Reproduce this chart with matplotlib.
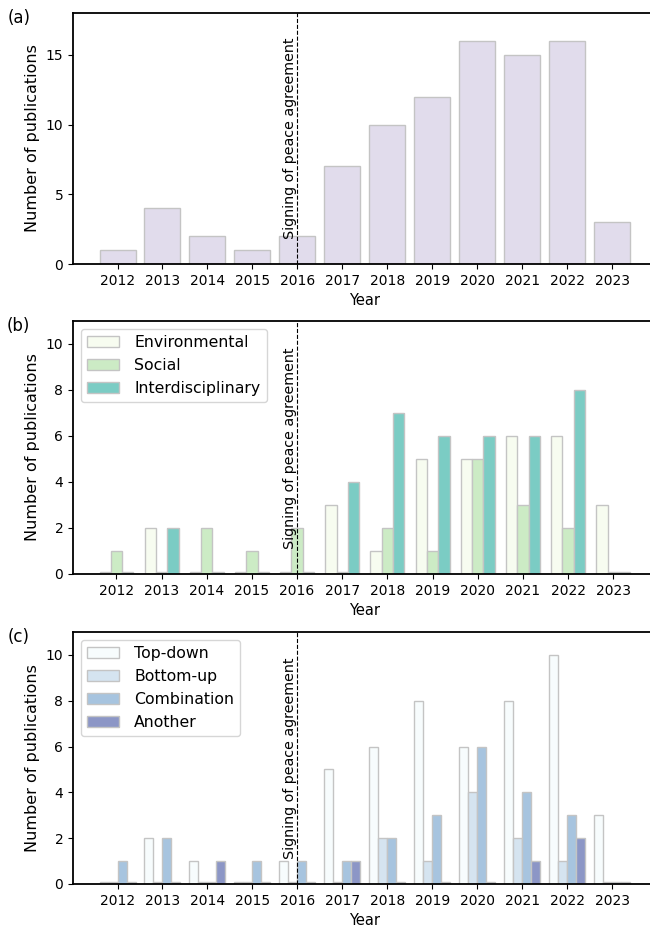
import matplotlib
matplotlib.use("Agg")
import matplotlib.pyplot as plt
import matplotlib.transforms as mtransforms
import numpy as np

years = [2012, 2013, 2014, 2015, 2016, 2017, 2018, 2019, 2020, 2021, 2022, 2023]

# (a) total publications per year
total = [1, 4, 2, 1, 2, 7, 10, 12, 16, 15, 16, 3]

# (b) by discipline
environmental = [0, 2, 0, 0, 0, 3, 1, 5, 5, 6, 6, 3]
social = [1, 0, 2, 1, 2, 0, 2, 1, 5, 3, 2, 0]
interdisciplinary = [0, 2, 0, 0, 0, 4, 7, 6, 6, 6, 8, 0]

# (c) by approach
top_down = [0, 2, 1, 0, 1, 5, 6, 8, 6, 8, 10, 3]
bottom_up = [0, 0, 0, 0, 0, 0, 2, 1, 4, 2, 1, 0]
combination = [1, 2, 0, 1, 1, 1, 2, 3, 6, 4, 3, 0]
another = [0, 0, 1, 0, 0, 1, 0, 0, 0, 1, 2, 0]

peace_year = 2016
edge = "#c4c4c4"


def stub(vals):
    # zero counts are drawn as a thin stub so the slot stays visible
    v = np.array(vals, dtype=float)
    return np.where(v == 0, 0.1, v)


def decorate(ax, ymax, label):
    ax.set_ylim(0, ymax)
    ax.set_xticks(years)
    ax.set_xticklabels([str(y) for y in years])
    ax.tick_params(labelsize=10)
    ax.set_xlabel("Year", fontsize=10.5)
    ax.set_ylabel("Number of publications", fontsize=11.5)
    ax.spines["right"].set_visible(False)
    for s in ["left", "top", "bottom"]:
        ax.spines[s].set_linewidth(1.3)
    ax.axvline(peace_year, color="black", linestyle="--", linewidth=0.8)
    trans = mtransforms.blended_transform_factory(ax.transData, ax.transAxes)
    ax.text(peace_year, 0.1, "Signing of peace agreement", rotation=90,
            ha="right", va="bottom", transform=trans, fontsize=10.3)
    ax.text(-0.093, 0.98, label, transform=ax.transAxes, fontsize=12,
            ha="center", va="center")


fig = plt.figure(figsize=(6.5, 9.31), dpi=100)
left, width = 0.1123, 0.898
ax1 = fig.add_axes([left, 0.7164, width, 0.2696])
ax2 = fig.add_axes([left, 0.3835, width, 0.2718])
ax3 = fig.add_axes([left, 0.0505, width, 0.2707])

x = np.array(years)

# (a)
ax1.bar(x, total, width=0.8, color="#e1dcec", edgecolor=edge, linewidth=1)
decorate(ax1, 18, "(a)")
ax1.set_yticks([0, 5, 10, 15])

# (b)
w = 0.25
ax2.bar(x - w, stub(environmental), width=w, color="#f7fcf0", edgecolor=edge,
        linewidth=1, label="Environmental")
ax2.bar(x, stub(social), width=w, color="#ccebc5", edgecolor=edge,
        linewidth=1, label="Social")
ax2.bar(x + w, stub(interdisciplinary), width=w, color="#7bccc4", edgecolor=edge,
        linewidth=1, label="Interdisciplinary")
decorate(ax2, 11, "(b)")
ax2.set_yticks([0, 2, 4, 6, 8, 10])
ax2.legend(loc="upper left", fontsize=11.3, handletextpad=1.0)

# (c)
w = 0.2
ax3.bar(x - 1.5 * w, stub(top_down), width=w, color="#f7fcfd", edgecolor=edge,
        linewidth=1, label="Top-down")
ax3.bar(x - 0.5 * w, stub(bottom_up), width=w, color="#d5e4f0", edgecolor=edge,
        linewidth=1, label="Bottom-up")
ax3.bar(x + 0.5 * w, stub(combination), width=w, color="#a7c4df", edgecolor=edge,
        linewidth=1, label="Combination")
ax3.bar(x + 1.5 * w, stub(another), width=w, color="#8c96c6", edgecolor=edge,
        linewidth=1, label="Another")
decorate(ax3, 11, "(c)")
ax3.set_yticks([0, 2, 4, 6, 8, 10])
ax3.legend(loc="upper left", fontsize=11.3, handletextpad=1.0)

fig.savefig("out.png", dpi=100)
